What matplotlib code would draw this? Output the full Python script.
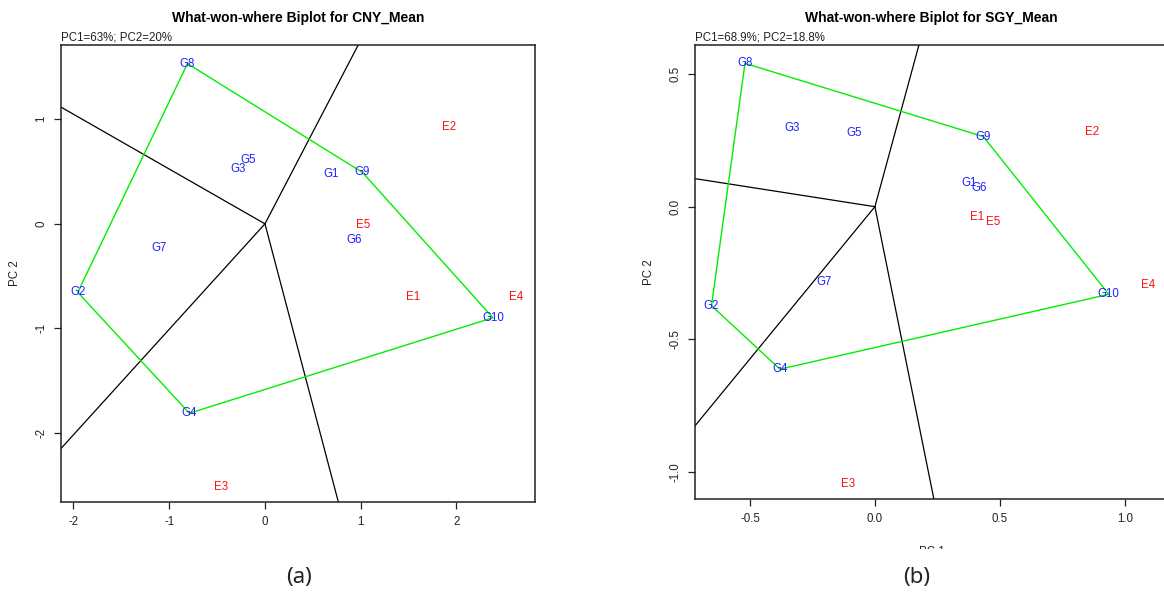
import numpy as np
import matplotlib
matplotlib.use('Agg')
import matplotlib.pyplot as plt
from matplotlib.transforms import Bbox, TransformedBbox

plt.rcParams['font.family'] = ['Liberation Sans', 'DejaVu Sans']

# genotype / environment scores
gen_names = ['G1', 'G2', 'G3', 'G4', 'G5', 'G6', 'G7', 'G8', 'G9', 'G10']
env_names = ['E1', 'E2', 'E3', 'E4', 'E5']

cny_gen_x = [0.689, -1.955, -0.276, -0.789, -0.178, 0.933, -1.106, -0.809, 1.019, 2.380]
cny_gen_y = [0.472, -0.655, 0.529, -1.811, 0.608, -0.151, -0.232, 1.532, 0.491, -0.898]
cny_env_x = [1.545, 1.926, -0.459, 2.628, 1.026]
cny_env_y = [-0.697, 0.924, -2.512, -0.697, -0.012]

sgy_gen_x = [0.377, -0.654, -0.331, -0.380, -0.085, 0.418, -0.204, -0.520, 0.434, 0.936]
sgy_gen_y = [0.090, -0.373, 0.295, -0.612, 0.277, 0.072, -0.283, 0.540, 0.264, -0.330]
sgy_env_x = [0.407, 0.869, -0.107, 1.093, 0.474]
sgy_env_y = [-0.039, 0.280, -1.043, -0.295, -0.056]

# polygon vertices and the sides that get a perpendicular ray
hull = ['G8', 'G9', 'G10', 'G4', 'G2']
ray_sides = [('G8', 'G9'), ('G10', 'G4'), ('G4', 'G2'), ('G2', 'G8')]

W, H = 1164, 601
fig = plt.figure(figsize=(W / 100, H / 100), dpi=100)


def add_axes_px(x0, y0, x1, y1):
    return fig.add_axes([x0 / W, 1 - y1 / H, (x1 - x0) / W, (y1 - y0) / H])


def biplot(ax, gx, gy, ex, ey, title, sub, xlim, ylim, xticks, yticks, fmt):
    pos = {n: np.array([x, y]) for n, x, y in zip(gen_names, gx, gy)}

    # rays from the origin, perpendicular to the polygon sides
    for a, b in ray_sides:
        d = pos[b] - pos[a]
        n = np.array([d[1], -d[0]])
        if np.dot(n, pos[a]) < 0:
            n = -n
        n = n / np.linalg.norm(n) * 50
        ax.plot([0, n[0]], [0, n[1]], color='black', lw=0.9, zorder=1)

    # convex hull
    hx = [pos[g][0] for g in hull] + [pos[hull[0]][0]]
    hy = [pos[g][1] for g in hull] + [pos[hull[0]][1]]
    ax.plot(hx, hy, color='#00ee00', lw=1.0, zorder=2)

    for n, x, y in zip(gen_names, gx, gy):
        ax.text(x, y, n, color='#2020ff', fontsize=8.3, ha='center', va='center', zorder=3)
    for n, x, y in zip(env_names, ex, ey):
        ax.text(x, y, n, color='#ff1010', fontsize=8.3, ha='center', va='center', zorder=3)

    ax.set_xlim(xlim)
    ax.set_ylim(ylim)
    ax.set_xticks(xticks)
    ax.set_yticks(yticks)
    ax.set_xticklabels([fmt % v for v in xticks])
    ax.set_yticklabels([fmt % v for v in yticks], rotation=90, va='center')
    ax.tick_params(direction='out', length=5, width=0.9, labelsize=8.3, pad=5,
                   colors='#222222')
    for s in ax.spines.values():
        s.set_color('#222222')
        s.set_linewidth(1.1)

    ax.set_ylabel('PC 2', fontsize=8.3, color='#222222')
    ax.yaxis.set_label_coords(-40 / ax.bbox.width, 0.5)
    ax.set_title(title, fontsize=10, fontweight='bold', pad=16.5)
    ax.text(0, 1.004, sub, transform=ax.transAxes, fontsize=8.3, ha='left', va='bottom',
            color='#222222')


ax1 = add_axes_px(61, 45, 535, 502)
biplot(ax1, cny_gen_x, cny_gen_y, cny_env_x, cny_env_y,
       'What-won-where Biplot for CNY_Mean', 'PC1=63%; PC2=20%',
       (-2.13, 2.82), (-2.66, 1.71), [-2, -1, 0, 1, 2], [-2, -1, 0, 1], '%g')

ax2 = add_axes_px(695, 45, 1168, 499)
biplot(ax2, sgy_gen_x, sgy_gen_y, sgy_env_x, sgy_env_y,
       'What-won-where Biplot for SGY_Mean', 'PC1=68.9%; PC2=18.8%',
       (-0.72, 1.173), (-1.101, 0.609), [-0.5, 0.0, 0.5, 1.0], [-1.0, -0.5, 0.0, 0.5], '%.1f')

# the x label of panel (b) is mostly hidden under the caption strip
xl = ax2.set_xlabel('PC 1', fontsize=8.3, color='#222222')
ax2.xaxis.set_label_coords(0.5, -47 / ax2.bbox.height)
xl.set_clip_box(TransformedBbox(Bbox([[0, 1 - 549 / H], [1, 1]]), fig.transFigure))
xl.set_clip_on(True)

fig.text(299 / W, 1 - 578 / H, '(a)', fontsize=16, ha='center', va='center',
         family='Noto Sans', color='#222222')
fig.text(917 / W, 1 - 578 / H, '(b)', fontsize=16, ha='center', va='center',
         family='Noto Sans', color='#222222')

fig.savefig('out.png', dpi=100)
